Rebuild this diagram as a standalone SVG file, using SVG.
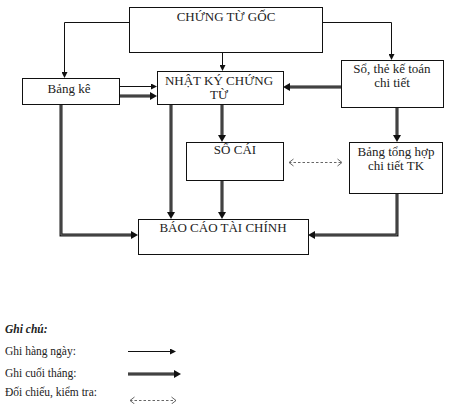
<svg xmlns="http://www.w3.org/2000/svg" width="468" height="404" viewBox="0 0 468 404">
<style>
.box{fill:#fff;stroke:#111;stroke-width:1}
.t{font-family:"Liberation Serif","Times New Roman",serif;font-size:13px;fill:#222;text-anchor:middle}
.lg{font-family:"Liberation Serif","Times New Roman",serif;font-size:11.5px;fill:#222}
.s{fill:none;stroke:#111;stroke-width:1}
.do{fill:none;stroke:#1a1a1a;stroke-width:3}
.di{fill:none;stroke:#6a6a6a;stroke-width:1}
.ds{fill:none;stroke:#666;stroke-width:1;stroke-dasharray:2.5 2}
.ch{fill:none;stroke:#666;stroke-width:1}
</style>
<defs>
<marker id="a" markerUnits="userSpaceOnUse" markerWidth="6" markerHeight="6" refX="0" refY="3" orient="auto"><path d="M0,0 L6,3 L0,6 z" fill="#111"/></marker>
<marker id="b" markerUnits="userSpaceOnUse" markerWidth="7" markerHeight="8" refX="0" refY="4" orient="auto"><path d="M0,0 L7,4 L0,8 z" fill="#111"/></marker>
</defs>
<rect width="468" height="404" fill="#fff"/>
<g id="connectors">
<path class="s" d="M129,22.5 H64.5 V72" marker-end="url(#a)"/>
<path class="s" d="M322,22.5 H391.5 V54" marker-end="url(#a)"/>
<path class="s" d="M222.5,52 V65" marker-end="url(#a)"/>
<path class="s" d="M119,86.5 H151" marker-end="url(#a)"/>
<path class="do" d="M119,96 H150" marker-end="url(#b)"/><path class="di" d="M119,96 H150"/>
<path class="do" d="M341,87 H290" marker-end="url(#b)"/><path class="di" d="M341,87 H290"/>
<path class="do" d="M61,104 V235 H131" marker-end="url(#b)"/><path class="di" d="M61,104 V235 H131"/>
<path class="do" d="M171,104 V212" marker-end="url(#b)"/><path class="di" d="M171,104 V212"/>
<path class="do" d="M222,104 V135" marker-end="url(#b)"/><path class="di" d="M222,104 V135"/>
<path class="do" d="M222,180 V212" marker-end="url(#b)"/><path class="di" d="M222,180 V212"/>
<path class="do" d="M397,107 V135" marker-end="url(#b)"/><path class="di" d="M397,107 V135"/>
<path class="do" d="M397,193 V235 H315" marker-end="url(#b)"/><path class="di" d="M397,193 V235 H315"/>
<path class="ds" d="M289,162.5 H342"/>
<path class="ch" d="M293.5,159 L289,162.5 L293.5,166 M337.5,159 L342,162.5 L337.5,166"/>
</g>
<g id="n-ctg"><rect class="box" x="129.5" y="7.5" width="193" height="45"/><text class="t" x="226" y="21">CHỨNG TỪ GỐC</text></g>
<g id="n-bangke"><rect class="box" x="22.5" y="78.5" width="97" height="26"/><text class="t" x="69" y="93">Bảng kê</text></g>
<g id="n-nkct"><rect class="box" x="157.5" y="71.5" width="126" height="33"/><text class="t" x="219" y="85">NHẬT KÝ CHỨNG</text><text class="t" x="219" y="99">TỪ</text></g>
<g id="n-sothe"><rect class="box" x="341.5" y="60.5" width="102" height="47"/><text class="t" x="392" y="73">Sổ, thẻ kế toán</text><text class="t" x="392" y="87">chi tiết</text></g>
<g id="n-socai"><rect class="box" x="186.5" y="142.5" width="97" height="38"/><text class="t" x="235" y="154">SỔ CÁI</text></g>
<g id="n-bth"><rect class="box" x="349.5" y="142.5" width="93" height="51"/><text class="t" x="396" y="156">Bảng tổng hợp</text><text class="t" x="396" y="170">chi tiết TK</text></g>
<g id="n-bctc"><rect class="box" x="138.5" y="219.5" width="170" height="35"/><text class="t" x="223" y="232">BÁO CÁO TÀI CHÍNH</text></g>
<g id="legend">
<text class="lg" x="5" y="333" font-weight="bold" font-style="italic">Ghi chú:</text>
<text class="lg" x="5" y="355">Ghi hàng ngày:</text>
<text class="lg" x="5" y="377">Ghi cuối tháng:</text>
<text class="lg" x="5" y="396">Đối chiếu, kiểm tra:</text>
<path class="s" d="M128,351.5 H170" marker-end="url(#a)"/>
<path class="do" d="M128,374 H174" marker-end="url(#b)"/><path class="di" d="M128,374 H174"/>
<path class="ds" d="M130,400.5 H176"/>
<path class="ch" d="M134.5,397 L130,400.5 L134.5,404 M171.5,397 L176,400.5 L171.5,404"/>
</g>
</svg>
